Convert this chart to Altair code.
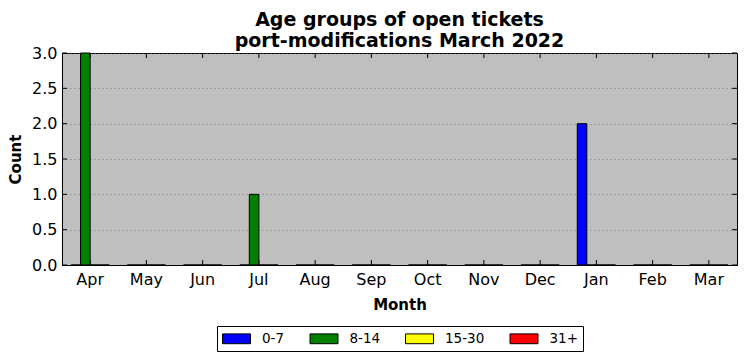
import altair as alt
import pandas as pd

months = ["Apr", "May", "Jun", "Jul", "Aug", "Sep", "Oct", "Nov", "Dec", "Jan", "Feb", "Mar"]
groups = ["0-7", "8-14", "15-30", "31+"]
colors = ["#0000ff", "#008000", "#ffff00", "#ff0000"]
v_0_7 = [0, 0, 0, 0, 0, 0, 0, 0, 0, 2, 0, 0]
v_8_14 = [3, 0, 0, 1, 0, 0, 0, 0, 0, 0, 0, 0]
v_15_30 = [0, 0, 0, 0, 0, 0, 0, 0, 0, 0, 0, 0]
v_31 = [0, 0, 0, 0, 0, 0, 0, 0, 0, 0, 0, 0]
y_ticks = [0.0, 0.5, 1.0, 1.5, 2.0, 2.5, 3.0]

series = {"0-7": v_0_7, "8-14": v_8_14, "15-30": v_15_30, "31+": v_31}
rows = []
for g in groups:
    for m, v in zip(months, series[g]):
        rows.append({"month": m, "group": g, "count": v})
df = pd.DataFrame(rows)
df_months = pd.DataFrame({"month": months})
df_yt = pd.DataFrame({"yv": y_ticks})

W, H = 675, 212
FONT = "DejaVu Sans"

xscale = alt.Scale(domain=months, paddingInner=0.32, paddingOuter=0.16)
yscale = alt.Scale(domain=[0, 3])

xaxis = alt.Axis(title="Month", labelAngle=0, tickSize=0, labelPadding=6,
                 labelFontSize=16, titleFontSize=15, titleFontWeight="bold",
                 titlePadding=10, domainColor="black", grid=False, labelOverlap=False)
yaxis = alt.Axis(title="Count", values=y_ticks, format=".1f", tickSize=0, labelPadding=5,
                 labelFontSize=16, titleFontSize=15, titleFontWeight="bold",
                 titlePadding=8, domainColor="black", grid=True, labelOverlap=False,
                 labelFlush=False, gridColor="#6e6e6e", gridDash=[1, 3], gridWidth=0.8)

bars = alt.Chart(df).mark_bar(stroke="black", strokeWidth=1).encode(
    x=alt.X("month:N", scale=xscale, sort=months, axis=xaxis),
    xOffset=alt.XOffset("group:N", sort=groups, scale=alt.Scale(domain=groups, paddingInner=0, paddingOuter=0)),
    y=alt.Y("count:Q", scale=yscale, axis=yaxis),
    fill=alt.Fill("group:N", sort=groups, scale=alt.Scale(domain=groups, range=colors),
                  legend=alt.Legend(title=None, orient="none", direction="horizontal",
                                    legendX=155, legendY=273, columns=4,
                                    symbolType="M-2,-0.7H2V0.7H-2Z", symbolSize=196,
                                    symbolOffset=7,
                                    symbolStrokeColor="black", symbolStrokeWidth=1,
                                    symbolOpacity=1,
                                    labelFontSize=13.5, labelFont=FONT, labelOffset=18,
                                    columnPadding=22.5, padding=5, rowPadding=0,
                                    strokeColor="black", fillColor="white")),
)

xt_bottom = alt.Chart(df_months).mark_rule(color="black", strokeWidth=1).encode(
    x=alt.X("month:N", scale=xscale, sort=months, bandPosition=0.5, axis=xaxis),
    y=alt.value(H), y2=alt.value(H - 5))
xt_top = alt.Chart(df_months).mark_rule(color="black", strokeWidth=1).encode(
    x=alt.X("month:N", scale=xscale, sort=months, bandPosition=0.5, axis=xaxis),
    y=alt.value(0), y2=alt.value(5))
yt_left = alt.Chart(df_yt).mark_rule(color="black", strokeWidth=1).encode(
    y=alt.Y("yv:Q", scale=yscale, axis=yaxis), x=alt.value(0), x2=alt.value(5))
yt_right = alt.Chart(df_yt).mark_rule(color="black", strokeWidth=1).encode(
    y=alt.Y("yv:Q", scale=yscale, axis=yaxis), x=alt.value(W), x2=alt.value(W - 5))

chart = alt.layer(bars, xt_bottom, xt_top, yt_left, yt_right).properties(
    width=W, height=H,
    title=alt.TitleParams(["Age groups of open tickets", "port-modifications March 2022"],
                          font=FONT, fontSize=19, fontWeight="bold", anchor="middle",
                          lineHeight=21, offset=-6, color="black"),
    autosize=alt.AutoSizeParams(type="none"),
    padding={"left": 54, "top": 45, "right": 1, "bottom": 90},
).configure(font=FONT).configure_view(
    fill="#bfbfbf", stroke="black", strokeWidth=1
).configure_axis(
    labelFont=FONT, titleFont=FONT, labelColor="black", titleColor="black"
)

chart.save("out.html", embed_options={"renderer": "svg", "actions": False})
